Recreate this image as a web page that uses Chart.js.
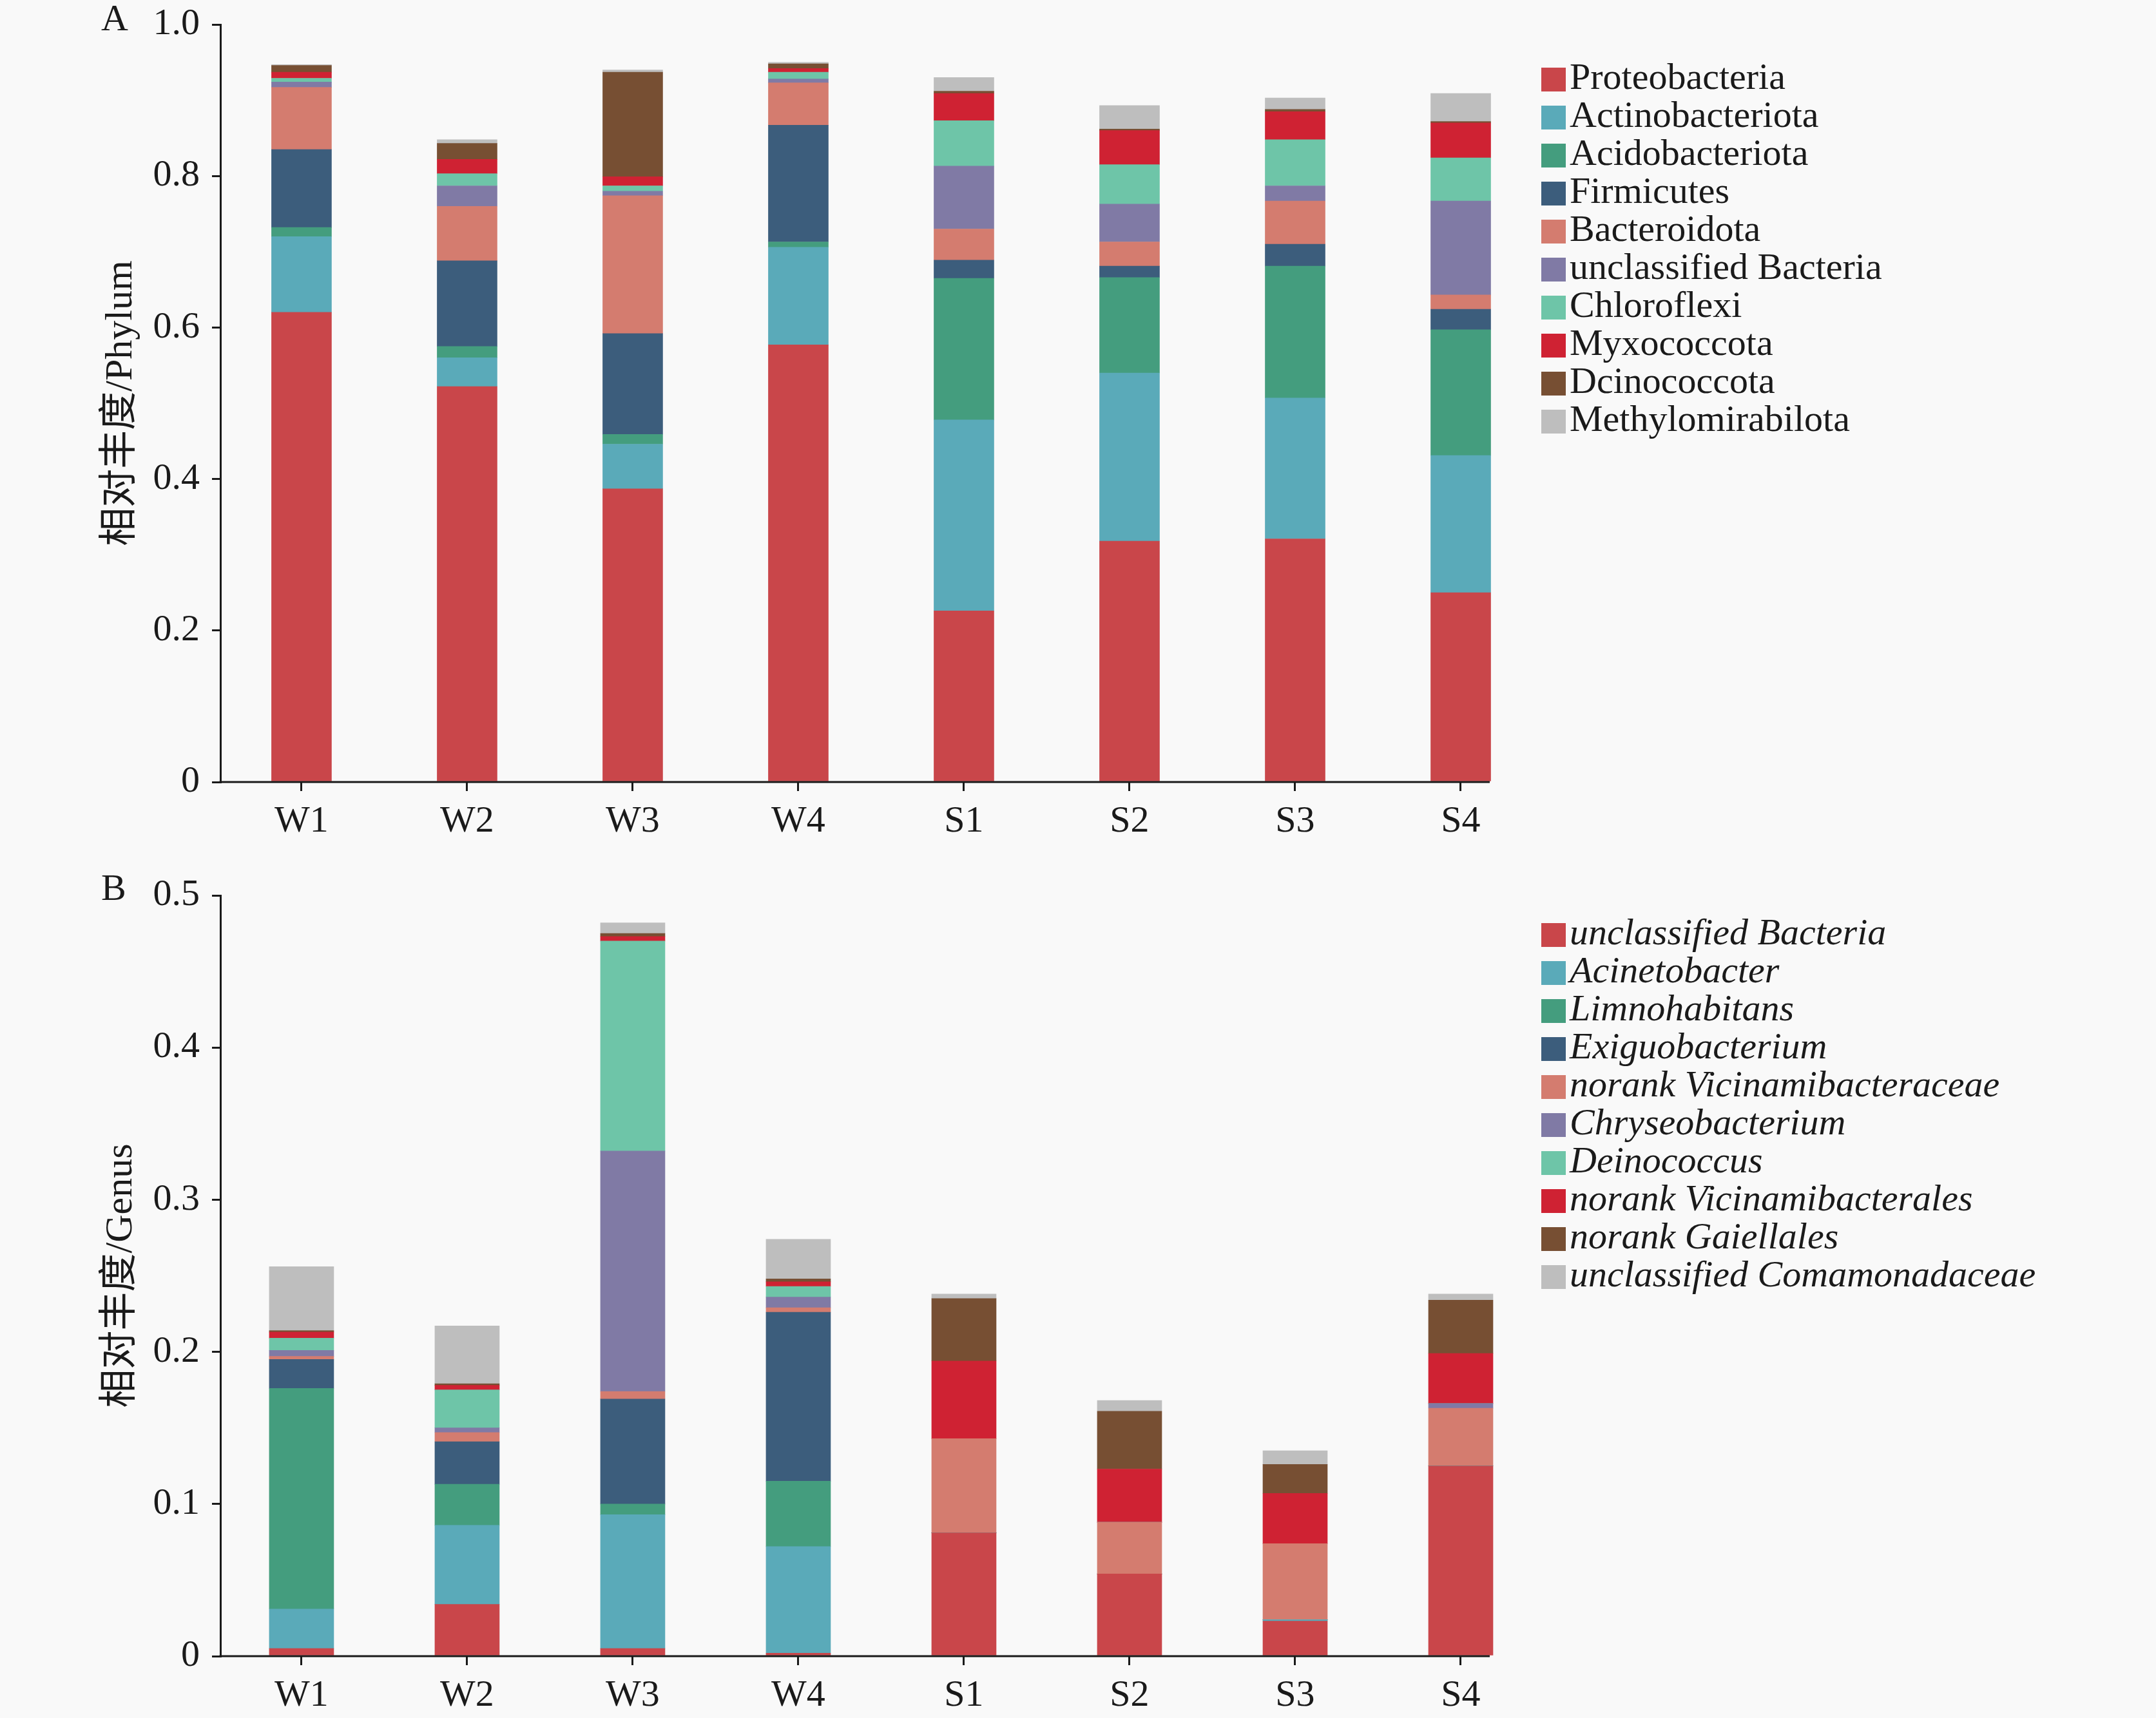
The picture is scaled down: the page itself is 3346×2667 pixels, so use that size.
<!DOCTYPE html>
<html>
<head>
<meta charset="utf-8">
<script src="https://cdn.jsdelivr.net/npm/chart.js@4.4.1/dist/chart.umd.min.js"></script>
<style>
  html, body { margin: 0; padding: 0; background: #f9f9f9; }
  #wrap { position: relative; width: 3346px; height: 2667px; overflow: hidden; background: #f9f9f9; }
  canvas { position: absolute; left: 0; }
  .panel { position: absolute; font-family: "Liberation Serif", serif; font-size: 58px; line-height: 1; color: #1a1a1a; }
</style>
</head>
<body>
<div id="wrap">
  <canvas id="phylum" width="3346" height="1330" style="top:0"></canvas>
  <canvas id="genus" width="3346" height="1337" style="top:1330px"></canvas>
  <div class="panel" style="left:157px;top:-1px">A</div>
  <div class="panel" style="left:157px;top:1349px">B</div>
</div>
<script>
var samples = ["W1", "W2", "W3", "W4", "S1", "S2", "S3", "S4"];

// A: phylum level
var phylumNames = ["Proteobacteria", "Actinobacteriota", "Acidobacteriota", "Firmicutes", "Bacteroidota",
    "unclassified Bacteria", "Chloroflexi", "Myxococcota", "Dcinococcota", "Methylomirabilota"];
var proteobacteria    = [0.620, 0.522, 0.387, 0.577, 0.226, 0.318, 0.321, 0.250];
var actinobacteriota  = [0.100, 0.038, 0.059, 0.129, 0.252, 0.222, 0.186, 0.181];
var acidobacteriota   = [0.012, 0.015, 0.013, 0.007, 0.187, 0.126, 0.174, 0.166];
var firmicutes        = [0.103, 0.113, 0.133, 0.154, 0.024, 0.015, 0.029, 0.027];
var bacteroidota      = [0.082, 0.072, 0.182, 0.056, 0.041, 0.032, 0.057, 0.019];
var unclassifiedPhy   = [0.007, 0.027, 0.006, 0.005, 0.083, 0.050, 0.020, 0.124];
var chloroflexi       = [0.005, 0.016, 0.007, 0.009, 0.060, 0.052, 0.061, 0.057];
var myxococcota       = [0.008, 0.019, 0.012, 0.005, 0.036, 0.045, 0.037, 0.046];
var dcinococcota      = [0.009, 0.021, 0.138, 0.006, 0.003, 0.002, 0.003, 0.002];
var methylomirabilota = [0.001, 0.005, 0.003, 0.002, 0.018, 0.031, 0.015, 0.037];

// B: genus level
var genusNames = ["unclassified Bacteria", "Acinetobacter", "Limnohabitans", "Exiguobacterium",
    "norank Vicinamibacteraceae", "Chryseobacterium", "Deinococcus", "norank Vicinamibacterales",
    "norank Gaiellales", "unclassified Comamonadaceae"];
var unclassifiedGen    = [0.005, 0.034, 0.005, 0.002, 0.081, 0.054, 0.023, 0.125];
var acinetobacter      = [0.026, 0.052, 0.088, 0.070, 0.000, 0.000, 0.001, 0.000];
var limnohabitans      = [0.145, 0.027, 0.007, 0.043, 0.000, 0.000, 0.000, 0.000];
var exiguobacterium    = [0.019, 0.028, 0.069, 0.111, 0.000, 0.000, 0.000, 0.000];
var vicinamibacteraceae= [0.002, 0.006, 0.005, 0.003, 0.062, 0.034, 0.050, 0.038];
var chryseobacterium   = [0.004, 0.003, 0.158, 0.007, 0.000, 0.000, 0.000, 0.003];
var deinococcus        = [0.008, 0.025, 0.138, 0.007, 0.000, 0.000, 0.000, 0.000];
var vicinamibacterales = [0.004, 0.003, 0.003, 0.003, 0.051, 0.035, 0.033, 0.033];
var gaiellales         = [0.001, 0.001, 0.002, 0.002, 0.041, 0.038, 0.019, 0.035];
var comamonadaceae     = [0.042, 0.038, 0.007, 0.026, 0.003, 0.007, 0.009, 0.004];

var yTicksA = [0, 0.2, 0.4, 0.6, 0.8, 1.0];
var yLabelsA = ["0", "0.2", "0.4", "0.6", "0.8", "1.0"];
var yTicksB = [0, 0.1, 0.2, 0.3, 0.4, 0.5];
var yLabelsB = ["0", "0.1", "0.2", "0.3", "0.4", "0.5"];

var colors = ["#c9464a", "#5aaab9", "#449d7e", "#3c5d7c", "#d47c6f",
              "#807aa5", "#6ec5a8", "#cf2233", "#774f33", "#bebebe"];
var ink = "#1a1a1a";
var serif = "'Liberation Serif', 'Noto Sans CJK SC', serif";

// legend swatch sits close to its text (colour square on the right side of a wider transparent image)
function swatch(color) {
    var c = document.createElement("canvas");
    c.width = 84;
    c.height = 37;
    var g = c.getContext("2d");
    g.fillStyle = color;
    g.fillRect(46, 0, 38, 37);
    return c;
}
var swatches = colors.map(swatch);

// legend gets a fixed width so the plot area ends at the same place in both panels
var legendWidth = {
    id: "legendWidth",
    beforeLayout: function (chart) {
        var lg = chart.legend;
        if (lg && !lg._fixedWidth) {
            var fit = lg.fit;
            lg.fit = function () { fit.call(this); this.width = 978; };
            lg._fixedWidth = true;
        }
    }
};

// x axis line stops short of the legend
var baseline = {
    id: "baseline",
    afterDatasetsDraw: function (chart) {
        var a = chart.chartArea, c = chart.ctx;
        c.save();
        c.strokeStyle = ink;
        c.lineWidth = 3;
        c.beginPath();
        c.moveTo(a.left - 1.5, a.bottom);
        c.lineTo(chart.scales.x.getPixelForValue(7.175), a.bottom);
        c.stroke();
        c.restore();
    }
};

function renderChart(chartId, names, series, yMax, yTicks, yLabels, opts) {
    var ctx = document.getElementById(chartId).getContext("2d");
    var datasets = names.map(function (name, k) {
        return {
            label: name,
            data: series[k].map(function (v, i) { return { x: i, y: v }; }),
            backgroundColor: colors[k],
            borderWidth: 0,
            barThickness: opts.barWidth
        };
    });
    return new Chart(ctx, {
        type: "bar",
        data: { datasets: datasets },
        options: {
            responsive: false,
            animation: false,
            devicePixelRatio: 1,
            layout: { padding: { top: opts.top, left: 0, right: 0, bottom: 0 } },
            scales: {
                x: {
                    type: "linear",
                    stacked: true,
                    offset: false,
                    min: -0.49,
                    max: 7.393,
                    afterBuildTicks: function (scale) {
                        scale.ticks = samples.map(function (_, i) { return { value: i }; });
                    },
                    afterFit: function (scale) {
                        scale.height = opts.xHeight;
                        scale.paddingLeft = 0;
                        scale.paddingRight = 0;
                    },
                    grid: { display: true, offset: false, drawOnChartArea: false, drawTicks: true, tickLength: 14, lineWidth: 3, color: ink },
                    border: { display: false },
                    ticks: {
                        autoSkip: false,
                        maxRotation: 0,
                        padding: 13,
                        color: ink,
                        font: { family: serif, size: 58 },
                        callback: function (v) { return samples[v]; }
                    }
                },
                y: {
                    stacked: true,
                    min: 0,
                    max: yMax,
                    afterBuildTicks: function (scale) {
                        scale.ticks = yTicks.map(function (v) { return { value: v }; });
                    },
                    afterFit: function (scale) {
                        scale.width = 342;
                        scale.paddingTop = 0;
                        scale.paddingBottom = 0;
                    },
                    grid: { display: true, drawOnChartArea: false, drawTicks: true, tickLength: 13, lineWidth: 3, color: ink },
                    border: { display: true, color: ink, width: 3 },
                    ticks: {
                        padding: 19,
                        color: ink,
                        font: { family: serif, size: 58 },
                        callback: function (v, i) { return yLabels[i]; }
                    },
                    title: {
                        display: true,
                        text: opts.yTitle,
                        color: ink,
                        font: { family: serif, size: 60 },
                        padding: { top: 152, bottom: 0 }
                    }
                }
            },
            plugins: {
                legend: {
                    position: "right",
                    align: "start",
                    title: { display: true, text: "", padding: 0, font: { size: opts.legendGap, lineHeight: 1 } },
                    labels: {
                        usePointStyle: true,
                        pointStyleWidth: 38,
                        boxWidth: 38,
                        boxHeight: 37,
                        padding: 1,
                        color: ink,
                        font: { family: serif, size: 58, style: opts.italic ? "italic" : "normal" },
                        generateLabels: function (chart) {
                            var items = Chart.defaults.plugins.legend.labels.generateLabels(chart);
                            items.forEach(function (it) { it.pointStyle = swatches[it.datasetIndex]; });
                            return items;
                        }
                    }
                },
                tooltip: { enabled: false }
            }
        },
        plugins: [legendWidth, baseline]
    });
}

renderChart("phylum", phylumNames,
    [proteobacteria, actinobacteriota, acidobacteriota, firmicutes, bacteroidota,
     unclassifiedPhy, chloroflexi, myxococcota, dcinococcota, methylomirabilota],
    1.0, yTicksA, yLabelsA,
    { top: 38, xHeight: 116, barWidth: 93, legendGap: 55, italic: false, yTitle: "相对丰度/Phylum" });

renderChart("genus", genusNames,
    [unclassifiedGen, acinetobacter, limnohabitans, exiguobacterium, vicinamibacteraceae,
     chryseobacterium, deinococcus, vicinamibacterales, gaiellales, comamonadaceae],
    0.5, yTicksB, yLabelsB,
    { top: 60, xHeight: 96, barWidth: 100, legendGap: 31, italic: true, yTitle: "相对丰度/Genus" });
</script>
</body>
</html>
